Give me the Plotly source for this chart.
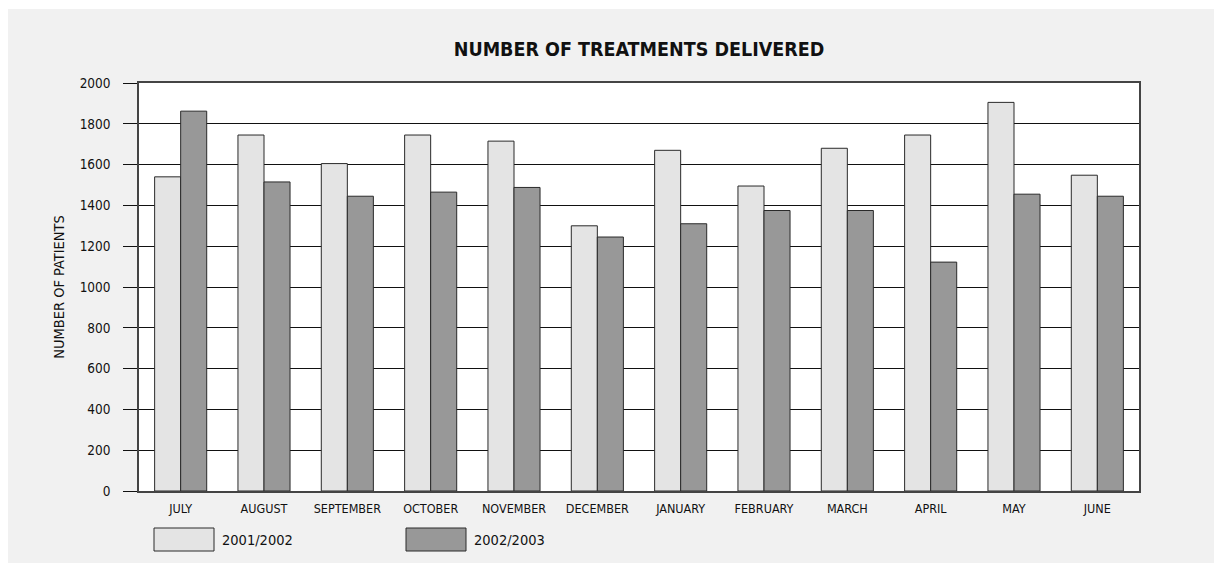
import plotly.graph_objects as go

# Monthly treatment counts for two financial years
months = ["JULY", "AUGUST", "SEPTEMBER", "OCTOBER", "NOVEMBER", "DECEMBER",
          "JANUARY", "FEBRUARY", "MARCH", "APRIL", "MAY", "JUNE"]
year_labels = ["2001/2002", "2002/2003"]
patients_2001_2002 = [1540, 1745, 1605, 1745, 1715, 1300, 1670, 1495, 1680, 1745, 1905, 1548]
patients_2002_2003 = [1862, 1515, 1445, 1465, 1488, 1245, 1310, 1375, 1375, 1122, 1455, 1445]
y_ticks = [0, 200, 400, 600, 800, 1000, 1200, 1400, 1600, 1800, 2000]

fills = ["#e4e4e4", "#989898"]
edge = "#2a2a2a"
ink = "#111111"
font = "DejaVu Sans Condensed, Liberation Sans Narrow, sans-serif"

W, H = 1214, 563
ML, MR, MT, MB = 139, 75, 83, 72
PW, PH = W - ML - MR, H - MT - MB


def px_x(px):
    return (px - ML) / PW


def px_y(py):
    return (H - MB - py) / PH


fig = go.Figure()
for name, vals, col in zip(year_labels, [patients_2001_2002, patients_2002_2003], fills):
    fig.add_trace(go.Bar(
        x=months, y=vals, name=name,
        marker=dict(color=col, line=dict(color=edge, width=1)),
        showlegend=False,
    ))

# legend drawn as large swatches under the axis
shapes = []
annotations = []
swatch_left = [154, 406]
for left, name, col in zip(swatch_left, year_labels, fills):
    shapes.append(dict(type="rect", xref="paper", yref="paper",
                       x0=px_x(left), x1=px_x(left + 60),
                       y0=px_y(551), y1=px_y(528),
                       fillcolor=col, line=dict(color=edge, width=1)))
    annotations.append(dict(xref="paper", yref="paper", x=px_x(left + 66), y=px_y(540),
                            xanchor="left", yanchor="middle", showarrow=False,
                            text=name, font=dict(family=font, size=14.5, color=ink)))

# thin white strips along the top and left edges
shapes.append(dict(type="rect", xref="paper", yref="paper",
                   x0=px_x(-5), x1=px_x(W + 5), y0=px_y(9), y1=px_y(-5),
                   fillcolor="white", line=dict(width=0)))
shapes.append(dict(type="rect", xref="paper", yref="paper",
                   x0=px_x(-5), x1=px_x(8), y0=px_y(H + 5), y1=px_y(-5),
                   fillcolor="white", line=dict(width=0)))

fig.update_layout(
    width=W, height=H,
    margin=dict(l=ML, r=MR, t=MT, b=MB, pad=0),
    paper_bgcolor="#f1f1f1",
    plot_bgcolor="white",
    barmode="group",
    bargap=0.375,
    bargroupgap=0,
    title=dict(text="<b>NUMBER OF TREATMENTS DELIVERED</b>",
               x=0.5, xref="paper", xanchor="center",
               y=1 - 49.5 / H, yref="container", yanchor="middle",
               font=dict(family=font, size=19.5, color=ink)),
    font=dict(family=font, color=ink),
    shapes=shapes,
    annotations=annotations,
)

fig.update_xaxes(
    showgrid=False, ticks="", showline=True, mirror=True,
    linecolor="#444444", linewidth=1.5,
    tickfont=dict(family=font, size=12.5, color=ink),
    ticklabelstandoff=5,
)
fig.update_yaxes(
    range=[0, 2000], tickvals=y_ticks,
    showgrid=True, gridcolor="#111111", gridwidth=1.2,
    ticks="outside", ticklen=14, tickcolor="#111111", tickwidth=1.2,
    showline=True, mirror=True, linecolor="#444444", linewidth=1.5,
    tickfont=dict(family=font, size=13.5, color=ink),
    ticklabelstandoff=10,
    zeroline=False,
    title=dict(text="NUMBER OF PATIENTS", standoff=12,
               font=dict(family=font, size=14.5, color=ink)),
)

fig.write_html("out.html")
